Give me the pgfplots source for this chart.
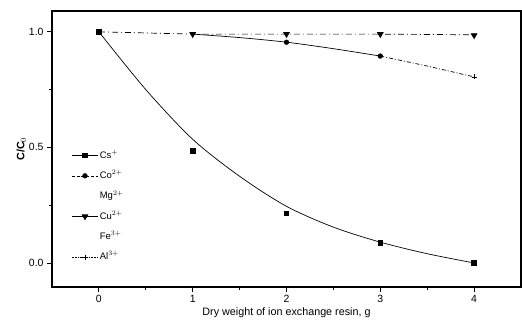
\documentclass[border=0pt]{standalone}
\usepackage{pgfplots}
\pgfplotsset{compat=1.18}
\usepackage{fontspec}
\setmainfont{Liberation Sans}
\begin{document}
\begin{tikzpicture}
\begin{axis}[
  at={(0,0)}, anchor=south west,
  scale only axis, width=469bp, height=276bp,
  xmin=-0.5, xmax=4.5, ymin=-0.104, ymax=1.09,
  xtick={0,1,2,3,4}, ytick={0,0.5,1},
  minor x tick num=1, minor y tick num=1,
  yticklabel style={/pgf/number format/fixed,/pgf/number format/fixed zerofill,/pgf/number format/precision=1},
  /pgf/number format/assume math mode=true,
  tick align=outside, tick pos=left,
  major tick length=5bp, minor tick length=3bp,
  axis line style={line width=1.3pt},
  every tick/.style={black, line width=0.9pt},
  tick label style={font=\fontsize{10.5}{12}\selectfont},
  xlabel={Dry weight of ion exchange resin, g},
  ylabel={\textbf{C/C$_0$}},
  label style={font=\fontsize{10.8}{12}\selectfont},
  xlabel style={yshift=2bp},
  ylabel style={yshift=-4bp},
  legend style={draw=none, fill=none, at={(axis cs:-0.33,0.497)}, anchor=north west,
    font=\fontsize{9.5}{11}\selectfont, row sep=9.8bp, legend cell align=left,
    nodes={text height=7bp, text depth=1.5bp, inner sep=1bp, xshift=2bp}},
  legend image code/.code={\draw[#1] (0cm,0cm) -- (0.95cm,0cm); \draw[#1, solid] plot coordinates {(0.475cm,0cm)};},
]
% Cs+ fit curve
\addplot[black, line width=0.7pt, smooth, forget plot] coordinates {
(0,1.0) (0.5,0.75) (1,0.535) (1.5,0.375) (2,0.245) (2.5,0.155) (3,0.09) (3.5,0.04) (4,0.0)};
% Co fit line
\addplot[black, line width=0.7pt, smooth, forget plot] coordinates {
(1,0.99) (1.5,0.975) (2,0.955) (2.5,0.927) (3,0.895)};
\addplot[black, line width=0.7pt, dash pattern=on 4bp off 2bp on 1bp off 2bp, forget plot] coordinates {
(3,0.895) (3.5,0.852) (4,0.805)};
% Cu line
\addplot[black, line width=0.7pt, dash pattern=on 6bp off 3bp on 1bp off 3bp, forget plot] coordinates {
(0,1.0) (1,0.99) (2,0.99) (3,0.99) (4,0.987)};
% markers
\addplot[black, solid, line width=0.8pt, mark=square*, mark size=2.3bp, only marks] coordinates {
(0,1.0) (1,0.485) (2,0.215) (3,0.088) (4,0.0)};
\addlegendentry{Cs$^{+}$}
\addplot[black, densely dashed, line width=0.6pt, mark=*, mark size=2.3bp, mark options={solid}, only marks] coordinates {
(0,1.0) (2,0.955) (3,0.895)};
\addlegendentry{Co$^{2+}$}
\addlegendimage{empty legend}
\addlegendentry{Mg$^{2+}$}
\addplot[black, solid, line width=0.8pt, mark=triangle*, mark options={rotate=180}, mark size=3.2bp, only marks] coordinates {
(1,0.99) (2,0.99) (3,0.99) (4,0.985)};
\addlegendentry{Cu$^{2+}$}
\addlegendimage{empty legend}
\addlegendentry{Fe$^{3+}$}
\addplot[black, densely dotted, line width=0.6pt, mark=+, mark size=2.5bp, mark options={solid}, only marks] coordinates {
(4,0.805)};
\addlegendentry{Al$^{3+}$}
\end{axis}
\path[use as bounding box] (-52bp,-45bp) rectangle (470bp,287bp);
\end{tikzpicture}
\end{document}
